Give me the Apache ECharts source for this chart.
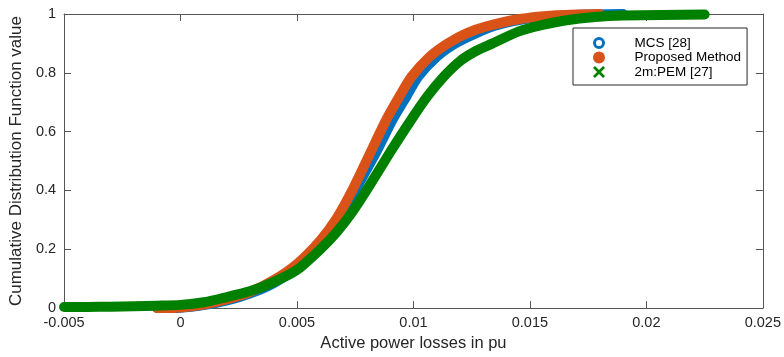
<!DOCTYPE html>
<html>
<head>
<meta charset="utf-8">
<script src="https://cdn.jsdelivr.net/npm/echarts@6/dist/echarts.min.js"></script>
<style>
  html, body { margin: 0; padding: 0; background: #fff; }
  #chart { width: 784px; height: 357px; }
</style>
</head>
<body>
<div id="chart"></div>
<script>
// Empirical CDF of active power losses (pu) for three estimation methods
const mcsX = [-0.001, 0.000, 0.001, 0.002, 0.003, 0.004, 0.005, 0.006, 0.0068, 0.0076, 0.0084, 0.0091, 0.0097, 0.0102, 0.0110, 0.0118, 0.0127, 0.0135, 0.0150, 0.0170, 0.0190];
const mcsY = [0.000, 0.001, 0.010, 0.026, 0.050, 0.085, 0.140, 0.225, 0.300, 0.415, 0.530, 0.640, 0.720, 0.787, 0.855, 0.900, 0.935, 0.960, 0.985, 0.997, 1.000];

const propX = [-0.001, 0.000, 0.001, 0.002, 0.003, 0.004, 0.005, 0.006, 0.0067, 0.0074, 0.0081, 0.00883, 0.0094, 0.00992, 0.0107, 0.01147, 0.0123, 0.0131, 0.0145, 0.0160, 0.0180];
const propY = [0.000, 0.002, 0.012, 0.030, 0.055, 0.095, 0.150, 0.230, 0.305, 0.405, 0.520, 0.640, 0.720, 0.787, 0.855, 0.900, 0.935, 0.957, 0.982, 0.995, 1.000];

const pemX = [-0.005, -0.004, -0.003, -0.002, -0.001, 0.000, 0.001, 0.0018, 0.003, 0.0039, 0.005, 0.006, 0.0067, 0.0074, 0.0081, 0.009, 0.0099, 0.0106, 0.0113, 0.012, 0.0127, 0.0134, 0.0145, 0.0155, 0.0165, 0.0178, 0.019, 0.0225];
const pemY = [0.004, 0.004, 0.005, 0.006, 0.008, 0.011, 0.020, 0.034, 0.058, 0.085, 0.130, 0.200, 0.258, 0.330, 0.415, 0.530, 0.640, 0.720, 0.787, 0.840, 0.875, 0.900, 0.940, 0.962, 0.978, 0.990, 0.995, 0.998];

const seriesNames = ['MCS [28]', 'Proposed Method', '2m:PEM [27]'];
const seriesColors = ['#0072bd', '#d95319', '#008000'];

const xTicks = { min: -0.005, max: 0.025, step: 0.005 };
const yTicks = { min: 0, max: 1, step: 0.2 };

const pairs = (xs, ys) => xs.map((x, i) => [x, ys[i]]);

const ringIcon = 'path://M0,-10A10,10,0,1,1,0,10A10,10,0,1,1,0,-10ZM0,-5.2A5.2,5.2,0,1,0,0,5.2A5.2,5.2,0,1,0,0,-5.2Z';
const crossIcon = 'path://M0,1.6L1.6,0L5,3.4L8.4,0L10,1.6L6.6,5L10,8.4L8.4,10L5,6.6L1.6,10L0,8.4L3.4,5Z';

const axisColor = '#555555';
const textColor = '#262626';
const fontFamily = 'Liberation Sans, Arial, Helvetica, sans-serif';

const fmt = v => String(parseFloat(v.toFixed(4)));

const chart = echarts.init(document.getElementById('chart'), null, { renderer: 'canvas' });

function curve(idx, xs, ys) {
  return {
    name: seriesNames[idx],
    type: 'line',
    data: pairs(xs, ys),
    showSymbol: false,
    smooth: 0.25,
    clip: false,
    color: seriesColors[idx],
    lineStyle: { width: 10, color: seriesColors[idx], cap: 'round', join: 'round' },
    emphasis: { disabled: true },
    animation: false
  };
}

const baseX = {
  type: 'value', min: xTicks.min, max: xTicks.max, interval: xTicks.step,
  axisLine: { show: true, onZero: false, lineStyle: { color: axisColor, width: 1 } },
  axisTick: { show: true, inside: true, length: 7, lineStyle: { color: axisColor } },
  splitLine: { show: false }
};
const baseY = {
  type: 'value', min: yTicks.min, max: yTicks.max, interval: yTicks.step,
  axisLine: { show: true, onZero: false, lineStyle: { color: axisColor, width: 1 } },
  axisTick: { show: true, inside: true, length: 7, lineStyle: { color: axisColor } },
  splitLine: { show: false }
};

chart.setOption({
  animation: false,
  backgroundColor: '#ffffff',
  grid: { left: 61, right: 18, top: 14, bottom: 48, containLabel: false },
  xAxis: [
    Object.assign({}, baseX, {
      position: 'bottom',
      name: 'Active power losses in pu',
      nameLocation: 'middle',
      nameGap: 24,
      nameTextStyle: { color: textColor, fontSize: 16.5, fontFamily: fontFamily },
      axisLabel: { color: textColor, fontSize: 14.5, fontFamily: fontFamily, margin: 7, formatter: fmt }
    }),
    Object.assign({}, baseX, { position: 'top', axisLabel: { show: false } })
  ],
  yAxis: [
    Object.assign({}, baseY, {
      position: 'left',
      name: 'Cumulative Distribution Function value',
      nameLocation: 'middle',
      nameGap: 34,
      nameTextStyle: { color: textColor, fontSize: 17, fontFamily: fontFamily },
      axisLabel: { color: textColor, fontSize: 14.5, fontFamily: fontFamily, margin: 8, formatter: fmt }
    }),
    Object.assign({}, baseY, { position: 'right', axisLabel: { show: false } })
  ],
  legend: {
    left: 573,
    top: 28,
    orient: 'vertical',
    backgroundColor: '#ffffff',
    borderColor: '#262626',
    borderWidth: 1,
    padding: [8, 6, 6, 20],
    itemGap: 0.5,
    itemWidth: 13,
    itemHeight: 12,
    symbolKeepAspect: true,
    itemStyle: { borderWidth: 0 },
    textStyle: { color: '#000000', fontSize: 13.5, fontFamily: fontFamily, padding: [0, 0, 0, 24] },
    selectedMode: false,
    data: [
      { name: seriesNames[0], icon: ringIcon },
      { name: seriesNames[1], icon: 'circle' },
      { name: seriesNames[2], icon: crossIcon }
    ]
  },
  series: [
    curve(0, mcsX, mcsY),
    curve(1, propX, propY),
    curve(2, pemX, pemY)
  ]
});
</script>
</body>
</html>
